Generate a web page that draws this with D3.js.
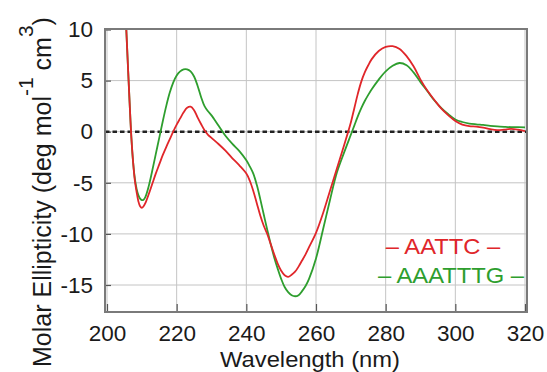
<!DOCTYPE html>
<html>
<head>
<meta charset="utf-8">
<script src="https://cdn.jsdelivr.net/npm/d3@7"></script>
<style>
  body { margin: 0; background: #fff; }
  svg { font-family: "Liberation Sans", Arial, sans-serif; }
</style>
</head>
<body>
<svg width="547" height="372"></svg>
<script>
// data: wavelength (nm) and molar ellipticity
let wavelength = [205.5, 206, 206.5, 207, 207.5, 208, 208.5, 209, 209.5, 210, 210.5, 211, 212, 213, 214, 215, 216, 217, 218, 219, 220, 221, 222, 223, 224, 225, 226, 227, 228, 229, 230, 232, 234, 236, 238, 240, 241, 242, 243, 244, 245, 246, 247, 248, 249, 250, 251, 252, 253, 254, 255, 256, 257, 258, 260, 262, 264, 266, 268, 270, 271, 272, 273, 274, 275, 276, 278, 280, 282, 284, 286, 288, 290, 292, 294, 296, 298, 300, 302, 304, 306, 308, 310, 312, 314, 316, 318, 320];

let aattc = [10.3, 6.5, 2.8, -0.6, -3.0, -4.8, -5.9, -6.8, -7.3, -7.45, -7.3, -7.0, -6.1, -5.1, -4.1, -3.2, -2.3, -1.5, -0.75, 0.0, 0.7, 1.3, 1.9, 2.35, 2.45, 2.1, 1.4, 0.75, 0.15, -0.3, -0.6, -1.2, -1.85, -2.6, -3.3, -4.1, -4.8, -5.8, -7.0, -8.2, -9.2, -10.0, -11.0, -12.0, -12.9, -13.6, -14.05, -14.2, -14.0, -13.7, -13.2, -12.6, -12.0, -11.3, -9.9, -8.0, -5.8, -3.6, -1.4, 0.9, 2.3, 3.7, 4.9, 5.8, 6.5, 7.1, 7.9, 8.3, 8.37, 8.1, 7.4, 6.4, 5.1, 4.0, 3.1, 2.25, 1.6, 1.05, 0.7, 0.55, 0.5, 0.4, 0.25, 0.15, 0.2, 0.28, 0.2, 0.05];

let aaatttg = [10.3, 6.5, 2.8, -0.6, -3.0, -4.6, -5.6, -6.2, -6.55, -6.7, -6.65, -6.4, -5.3, -3.8, -2.2, -0.6, 1.0, 2.5, 3.8, 4.8, 5.5, 5.9, 6.1, 6.1, 5.9, 5.4, 4.5, 3.4, 2.5, 2.0, 1.6, 0.6, -0.4, -1.2, -1.9, -2.8, -3.4, -4.1, -5.2, -6.6, -8.1, -9.6, -11.0, -12.3, -13.4, -14.4, -15.2, -15.7, -16.0, -16.1, -16.0, -15.6, -15.1, -14.4, -12.4, -9.6, -6.7, -4.0, -2.1, -0.3, 0.6, 1.5, 2.3, 3.0, 3.6, 4.15, 5.1, 5.9, 6.45, 6.72, 6.5, 5.8, 4.85, 3.95, 3.05, 2.3, 1.7, 1.2, 0.95, 0.8, 0.72, 0.66, 0.58, 0.52, 0.48, 0.45, 0.45, 0.43];

let xTicks = [200, 220, 240, 260, 280, 300, 320];
let yTicks = [-15, -10, -5, 0, 5, 10];

let seriesNames = ["AATTC", "AAATTTG"];
let seriesColors = ["#e0262a", "#2e9e2e"];

let svg = d3.select("svg");

// plot frame
let plotLeft = 105, plotRight = 527, plotTop = 29, plotBottom = 312;

let xScale = d3.scaleLinear().domain([200, 320]).range([107, 525]);
let yScale = d3.scaleLinear().domain([-15, 10]).range([285, 29.5]);

svg.append("defs").append("clipPath").attr("id", "clip")
   .append("rect")
   .attr("x", plotLeft).attr("y", plotTop)
   .attr("width", plotRight - plotLeft).attr("height", plotBottom - plotTop);

// gridlines
svg.append("g")
   .selectAll("line")
   .data(xTicks)
   .enter()
   .append("line")
   .attr("x1", d => xScale(d)).attr("x2", d => xScale(d))
   .attr("y1", plotTop).attr("y2", plotBottom)
   .attr("stroke", "#c4c4c4").attr("stroke-width", 1);

svg.append("g")
   .selectAll("line")
   .data(yTicks)
   .enter()
   .append("line")
   .attr("x1", plotLeft).attr("x2", plotRight)
   .attr("y1", d => yScale(d)).attr("y2", d => yScale(d))
   .attr("stroke", "#c4c4c4").attr("stroke-width", 1);

// axes with inward ticks
let xAxis = d3.axisBottom(xScale).tickValues(xTicks).tickSize(-8).tickPadding(13);
let yAxis = d3.axisLeft(yScale).tickValues(yTicks).tickSize(-6).tickPadding(12);

let gx = svg.append("g")
   .attr("transform", `translate(0, ${plotBottom})`)
   .call(xAxis);
let gy = svg.append("g")
   .attr("transform", `translate(${plotLeft}, 0)`)
   .call(yAxis);

[gx, gy].forEach(g => {
  g.select(".domain").remove();
  g.selectAll(".tick line").attr("stroke", "#555").attr("stroke-width", 1.2);
  g.selectAll(".tick text").attr("fill", "#1a1a1a").attr("font-size", 22.5);
});
gy.selectAll(".tick text").text(d => d);

// zero line
svg.append("line")
   .attr("x1", plotLeft).attr("x2", plotRight)
   .attr("y1", yScale(0)).attr("y2", yScale(0))
   .attr("stroke", "#222")
   .attr("stroke-width", 2.6)
   .attr("stroke-dasharray", "4.5,3");

// curves
let line = d3.line()
   .x(d => xScale(d[0]))
   .y(d => yScale(d[1]))
   .curve(d3.curveCatmullRom);

[aaatttg, aattc].forEach((values, i) => {
  let idx = i === 0 ? 1 : 0;
  svg.append("path")
     .datum(wavelength.map((w, j) => [w, values[j]]))
     .attr("clip-path", "url(#clip)")
     .attr("fill", "none")
     .attr("stroke", seriesColors[idx])
     .attr("stroke-width", 1.8)
     .attr("d", line);
});

// frame
svg.append("rect")
   .attr("x", plotLeft).attr("y", plotTop)
   .attr("width", plotRight - plotLeft).attr("height", plotBottom - plotTop)
   .attr("fill", "none")
   .attr("stroke", "#7a7a7a")
   .attr("stroke-width", 2);

// legend
let legendPos = [[443, 254], [451, 283]];
seriesNames.forEach((name, i) => {
  svg.append("text")
     .attr("transform", `translate(${legendPos[i][0]}, ${legendPos[i][1]}) scale(1.08, 1)`)
     .attr("text-anchor", "middle")
     .attr("font-size", 22)
     .attr("fill", seriesColors[i])
     .text("\u2013 " + name + " \u2013");
});

// axis titles
svg.append("text")
   .attr("transform", `translate(${(plotLeft + plotRight) / 2 - 6}, 367) scale(1.08, 1)`)
   .attr("text-anchor", "middle")
   .attr("font-size", 22)
   .attr("fill", "#1a1a1a")
   .text("Wavelength (nm)");

let yTitle = svg.append("text")
   .attr("transform", "translate(51, 192) rotate(-90)")
   .attr("text-anchor", "middle")
   .attr("font-size", 25)
   .attr("fill", "#1a1a1a");
yTitle.append("tspan").text("Molar Ellipticity (deg mol");
yTitle.append("tspan").attr("dy", -18).attr("font-size", 21).text("-1");
yTitle.append("tspan").attr("dy", 18).text(" cm");
yTitle.append("tspan").attr("dy", -18).attr("font-size", 21).text("3");
yTitle.append("tspan").attr("dy", 18).text(")");
</script>
</body>
</html>
